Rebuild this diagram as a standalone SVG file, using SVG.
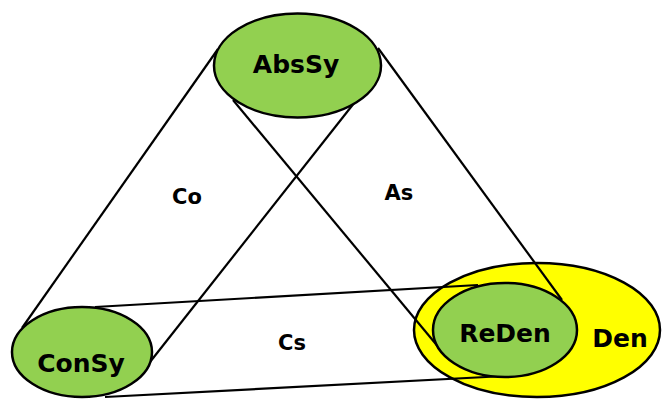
<svg xmlns="http://www.w3.org/2000/svg" width="662" height="399" viewBox="0 0 662 399">
<style>
.green{fill:#92D050;stroke:#000;stroke-width:2.5}
.yellow{fill:#FFFF00;stroke:#000;stroke-width:2.5}
.ln{stroke:#000;stroke-width:2.2;fill:none}
.big{font-family:"DejaVu Sans",Verdana,sans-serif;font-weight:bold;font-size:25px;fill:#000;text-anchor:middle}
.sm{font-family:"DejaVu Sans",Verdana,sans-serif;font-weight:bold;font-size:21px;fill:#000;text-anchor:middle}
</style>
<rect width="662" height="399" fill="#fff"/>
<g id="Den"><ellipse class="yellow" cx="537" cy="330" rx="123" ry="67"/><text class="big" x="620" y="347">Den</text></g>
<g id="connectors">
<line class="ln" x1="218" y1="49" x2="22" y2="328"/>
<line class="ln" x1="362" y1="93" x2="150" y2="362"/>
<line class="ln" x1="233" y1="100" x2="445" y2="355"/>
<line class="ln" x1="378" y1="48" x2="562" y2="300"/>
<line class="ln" x1="95" y1="307" x2="478" y2="285"/>
<line class="ln" x1="105" y1="397" x2="505" y2="376"/>
</g>
<g id="AbsSy"><ellipse class="green" cx="297.5" cy="65.5" rx="83.5" ry="52"/><text class="big" x="296" y="73">AbsSy</text></g>
<g id="ConSy"><ellipse class="green" cx="82" cy="352" rx="70" ry="45"/><text class="big" x="81" y="372">ConSy</text></g>
<g id="ReDen"><ellipse class="green" cx="505" cy="330" rx="72" ry="47"/><text class="big" x="505" y="342">ReDen</text></g>
<g id="labels">
<text class="sm" x="187" y="204">Co</text>
<text class="sm" x="399" y="200">As</text>
<text class="sm" x="292" y="350">Cs</text>
</g>
</svg>
